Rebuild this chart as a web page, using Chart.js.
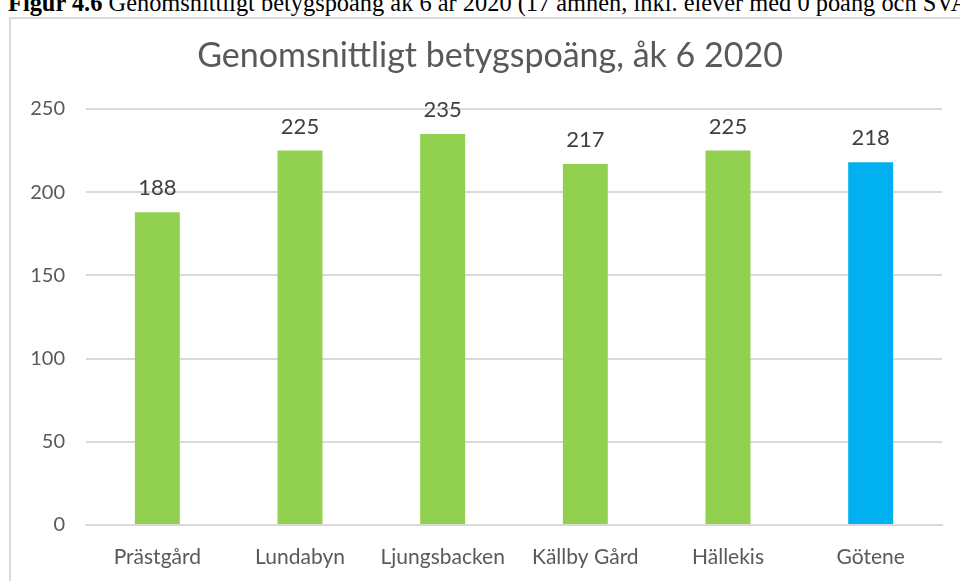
<!DOCTYPE html>
<html>
<head>
<meta charset="utf-8">
<script src="https://cdn.jsdelivr.net/npm/chart.js@4.4.1/dist/chart.umd.min.js"></script>
<style>
    body { margin: 0; background: #fff; overflow: hidden; }
    #caption {
        position: absolute; left: 8px; top: -10px; white-space: nowrap;
        font-family: "Liberation Serif", serif; font-size: 24.4px; line-height: 25px; color: #000;
    }
    #frame {
        position: absolute; left: 9px; top: 17px; width: 960px; height: 570px;
        border: 2px solid #d9d9d9;
    }
    #wrap { position: absolute; left: 0; top: 0; width: 960px; height: 581px; }
</style>
</head>
<body>
<div id="caption"><b>Figur 4.6</b> Genomsnittligt betygspoäng åk 6 år 2020 (17 ämnen, inkl. elever med 0 poäng och SVA)</div>
<div id="frame"></div>
<div id="wrap"><canvas id="myChart"></canvas></div>
<script>
// schools and their average grade points
const schools = ['Prästgård', 'Lundabyn', 'Ljungsbacken', 'Källby Gård', 'Hällekis', 'Götene'];
const points = [188, 225, 235, 217, 225, 218];
const yTicks = [0, 50, 100, 150, 200, 250];
const chartTitle = 'Genomsnittligt betygspoäng, åk 6 2020';

const barColors = schools.map(s => s === 'Götene' ? '#00B0F0' : '#92D050');

// title is centred on the chart frame, not the canvas
const frameTitle = {
    id: 'frameTitle',
    afterDraw(chart) {
        const ctx = chart.ctx;
        ctx.save();
        ctx.font = '34px Lato';
        ctx.fillStyle = '#595959';
        ctx.textAlign = 'center';
        ctx.textBaseline = 'middle';
        ctx.fillText(chartTitle, 490, 56);
        ctx.restore();
    }
};

// writes the value above each bar
const valueLabels = {
    id: 'valueLabels',
    afterDatasetsDraw(chart) {
        const ctx = chart.ctx;
        const meta = chart.getDatasetMeta(0);
        ctx.save();
        ctx.font = '22px Lato';
        ctx.fillStyle = '#404040';
        ctx.textAlign = 'center';
        ctx.textBaseline = 'alphabetic';
        meta.data.forEach((bar, i) => {
            ctx.fillText(points[i], bar.x, bar.y - 17);
        });
        ctx.restore();
    }
};

const ctx = document.getElementById('myChart');
new Chart(ctx, {
    type: 'bar',
    data: {
        labels: schools,
        datasets: [{
            data: points,
            backgroundColor: barColors,
            barPercentage: 0.315,
            categoryPercentage: 1
        }]
    },
    options: {
        responsive: true,
        maintainAspectRatio: false,
        animation: false,
        layout: { padding: { left: 0, right: 18, top: 109, bottom: 0 } },
        scales: {
            x: {
                grid: { display: false },
                border: { color: '#d9d9d9', width: 2 },
                ticks: { color: '#595959', font: { family: 'Lato', size: 21 }, padding: 12, maxRotation: 0 },
                afterFit(scale) { scale.height = 56; }
            },
            y: {
                min: 0, max: 250,
                afterBuildTicks(scale) { scale.ticks = yTicks.map(v => ({ value: v })); },
                grid: { color: '#d9d9d9', lineWidth: 2, drawTicks: false },
                border: { display: false },
                ticks: { color: '#595959', font: { family: 'Lato', size: 20 }, padding: 21 },
                afterFit(scale) { scale.width = 86; }
            }
        },
        plugins: {
            legend: { display: false },
            tooltip: { enabled: false },
            title: { display: false }
        }
    },
    plugins: [valueLabels, frameTitle]
});
</script>
</body>
</html>
